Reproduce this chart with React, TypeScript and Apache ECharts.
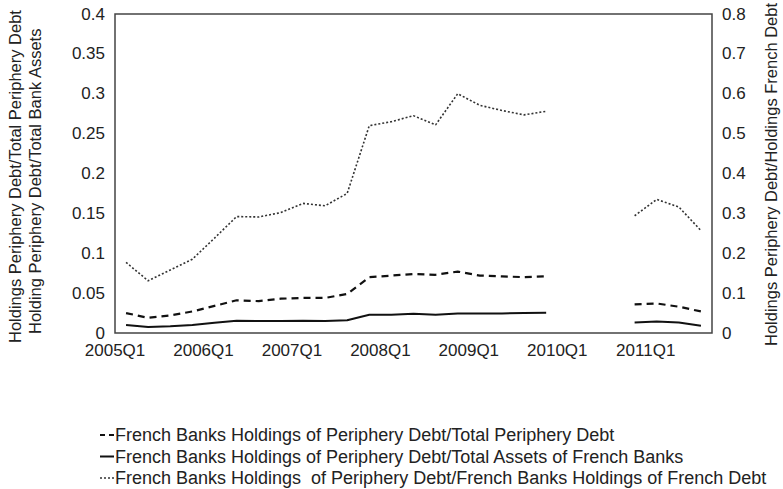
import React, { useEffect, useRef } from "react";
import * as echarts from "echarts";

// Quarterly categories, 2005Q1 through 2011Q3
const quarters = [
  "2005Q1", "2005Q2", "2005Q3", "2005Q4",
  "2006Q1", "2006Q2", "2006Q3", "2006Q4",
  "2007Q1", "2007Q2", "2007Q3", "2007Q4",
  "2008Q1", "2008Q2", "2008Q3", "2008Q4",
  "2009Q1", "2009Q2", "2009Q3", "2009Q4",
  "2010Q1", "2010Q2", "2010Q3", "2010Q4",
  "2011Q1", "2011Q2", "2011Q3",
];

// French banks' holdings of periphery debt / total periphery debt (left axis)
const shareOfPeripheryDebt = [
  0.025, 0.019, 0.022, 0.027, 0.034, 0.041, 0.040, 0.043, 0.044, 0.044,
  0.049, 0.070, 0.072, 0.074, 0.073, 0.077, 0.072, 0.071, 0.070, 0.071,
  null, null, null, 0.036, 0.037, 0.033, 0.027,
];

// French banks' holdings of periphery debt / total assets of French banks (left axis)
const shareOfBankAssets = [
  0.010, 0.0076, 0.0085, 0.010, 0.013, 0.0155, 0.015, 0.015, 0.0155, 0.015,
  0.016, 0.023, 0.023, 0.024, 0.023, 0.0245, 0.0245, 0.0245, 0.025, 0.0255,
  null, null, null, 0.0133, 0.0143, 0.0133, 0.0092,
];

// French banks' holdings of periphery debt / holdings of French debt (right axis)
const ratioToFrenchDebt = [
  0.177, 0.131, 0.158, 0.185, 0.238, 0.292, 0.291, 0.302, 0.325, 0.319,
  0.350, 0.520, 0.530, 0.545, 0.522, 0.600, 0.571, 0.558, 0.547, 0.556,
  null, null, null, 0.294, 0.335, 0.316, 0.257,
];

const leftTicks = { min: 0, max: 0.4, interval: 0.05 };
const rightTicks = { min: 0, max: 0.8, interval: 0.1 };

const legendLabels = [
  "French Banks Holdings of Periphery Debt/Total Periphery Debt",
  "French Banks Holdings of Periphery Debt/Total Assets of French Banks",
  "French Banks Holdings  of Periphery Debt/French Banks Holdings of French Debt",
];

const leftTitleOuter = "Holdings Periphery Debt/Total Periphery Debt";
const leftTitleInner = "Holding Periphery Debt/Total Bank Assets";
const rightTitle = "Holdings Periphery Debt/Holdings French Debt";

const FONT = "'Liberation Sans', Arial, Helvetica, sans-serif";
const TEXT = "#222";
const INK = "#111";

const dashStyle = [7, 5];
const dotStyle = [2, 2];

export default function App() {
  const ref = useRef<HTMLDivElement>(null);

  useEffect(() => {
    if (!ref.current) return;
    const chart = echarts.init(ref.current, undefined, { renderer: "svg" });

    // Hand-drawn legend: short line sample followed by its label
    const legendTop = 435;
    const legendGap = 21.5;
    const sampleStyles = [
      { stroke: INK, lineWidth: 2, lineDash: [5, 4] },
      { stroke: INK, lineWidth: 2 },
      { stroke: "#333", lineWidth: 1.6, lineDash: dotStyle },
    ];

    const legendGraphics: any[] = [];
    legendLabels.forEach((label, i) => {
      const y = legendTop + i * legendGap;
      legendGraphics.push({
        type: "line",
        shape: { x1: 100, y1: y, x2: 114, y2: y },
        style: sampleStyles[i],
      });
      legendGraphics.push({
        type: "text",
        x: 115,
        y,
        style: {
          text: label,
          fill: TEXT,
          font: `18px ${FONT}`,
          align: "left",
          verticalAlign: "middle",
        },
      });
    });

    // Vertical axis titles, reading bottom to top
    const titleText = (text: string, x: number, y: number) => ({
      type: "text",
      x,
      y,
      rotation: Math.PI / 2,
      style: {
        text,
        fill: TEXT,
        font: `16.5px ${FONT}`,
        align: "left",
        verticalAlign: "middle",
      },
    });

    chart.setOption({
      animation: false,
      backgroundColor: "#fff",
      grid: {
        left: 115,
        right: 71,
        top: 14,
        bottom: 156,
        show: true,
        borderColor: "#444",
        borderWidth: 1.5,
        containLabel: false,
      },
      xAxis: {
        type: "category",
        data: quarters,
        boundaryGap: true,
        axisLine: { show: false },
        axisTick: { show: false },
        axisLabel: {
          interval: 3,
          margin: 9,
          formatter: (v: string) => `{q|${v}}`,
          rich: { q: { padding: [0, 22, 0, 0], fontFamily: FONT, fontSize: 17, color: TEXT } },
        },
        splitLine: { show: false },
      },
      yAxis: [
        {
          type: "value",
          position: "left",
          ...leftTicks,
          axisLine: { show: false },
          axisTick: { show: false },
          splitLine: { show: false },
          axisLabel: { color: TEXT, fontFamily: FONT, fontSize: 17, margin: 10 },
        },
        {
          type: "value",
          position: "right",
          ...rightTicks,
          axisLine: { show: false },
          axisTick: { show: false },
          splitLine: { show: false },
          axisLabel: { color: TEXT, fontFamily: FONT, fontSize: 17, margin: 10 },
        },
      ],
      series: [
        {
          name: legendLabels[0],
          type: "line",
          yAxisIndex: 0,
          data: shareOfPeripheryDebt,
          symbol: "none",
          connectNulls: false,
          lineStyle: { color: INK, width: 2.2, type: dashStyle },
        },
        {
          name: legendLabels[1],
          type: "line",
          yAxisIndex: 0,
          data: shareOfBankAssets,
          symbol: "none",
          connectNulls: false,
          lineStyle: { color: INK, width: 2 },
        },
        {
          name: legendLabels[2],
          type: "line",
          yAxisIndex: 1,
          data: ratioToFrenchDebt,
          symbol: "none",
          connectNulls: false,
          lineStyle: { color: "#333", width: 1.6, type: dotStyle },
        },
      ],
      graphic: [
        titleText(leftTitleOuter, 15, 343),
        titleText(leftTitleInner, 35, 334),
        titleText(rightTitle, 771, 346),
        ...legendGraphics,
      ],
    });

    return () => chart.dispose();
  }, []);

  return (
    <div
      ref={ref}
      style={{ position: "fixed", left: 0, top: 0, width: 783, height: 489 }}
    />
  );
}
